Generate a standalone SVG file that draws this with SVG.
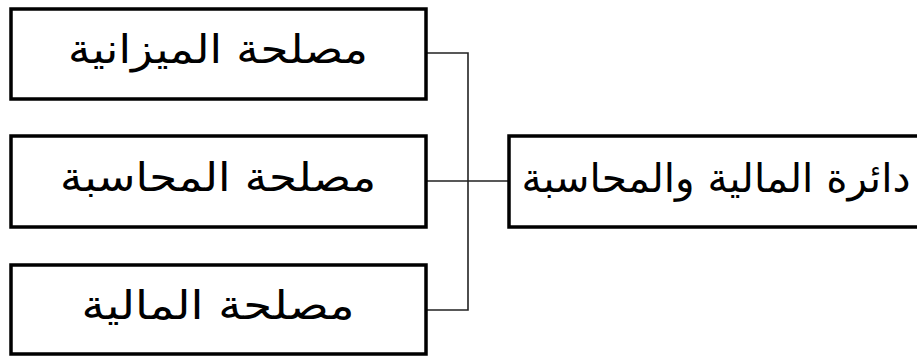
<svg xmlns="http://www.w3.org/2000/svg" width="917" height="356" viewBox="0 0 917 356">
<style>
.box{fill:#fff;stroke:#000;stroke-width:3.5}
.lbl{font-family:"DejaVu Sans",sans-serif;font-size:40px;fill:#000}
.conn{stroke:#222;stroke-width:1.6;fill:none}
</style>
<rect width="917" height="356" fill="#fff"/>
<g id="connectors">
<path class="conn" d="M426,53 H468 V310 H426 M426,181 H509"/>
</g>
<g id="node-budget">
<rect class="box" x="11" y="9" width="415" height="90"/>
<text class="lbl" x="218" y="63" text-anchor="middle" textLength="300" lengthAdjust="spacingAndGlyphs">مصلحة الميزانية</text>
</g>
<g id="node-accounting">
<rect class="box" x="11" y="136" width="415" height="91"/>
<text class="lbl" x="218" y="191" text-anchor="middle" textLength="316" lengthAdjust="spacingAndGlyphs">مصلحة المحاسبة</text>
</g>
<g id="node-finance">
<rect class="box" x="11" y="265" width="415" height="89"/>
<text class="lbl" x="218" y="319" text-anchor="middle" textLength="273" lengthAdjust="spacingAndGlyphs">مصلحة المالية</text>
</g>
<g id="node-department">
<rect class="box" x="509" y="136" width="420" height="91"/>
<text class="lbl" x="716" y="192" text-anchor="middle" textLength="389" lengthAdjust="spacingAndGlyphs">دائرة المالية والمحاسبة</text>
</g>
</svg>
